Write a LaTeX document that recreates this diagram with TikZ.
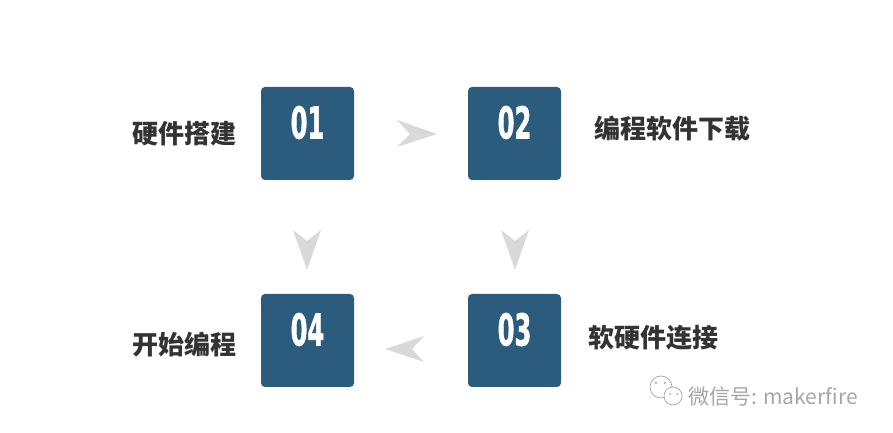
\documentclass[tikz,border=0pt]{standalone}
\usepackage{fontspec}
\usepackage{graphicx}
\setmainfont{Liberation Sans}
\newfontfamily\cjk{Noto Sans CJK SC}
\newfontfamily\numfont[BoldFeatures={FakeBold=1.5}]{DejaVu Sans}
\usetikzlibrary{positioning}

\definecolor{boxblue}{HTML}{2B5C7E}
\definecolor{chevgray}{HTML}{D9D9D9}
\definecolor{labelgray}{HTML}{333333}
\definecolor{markgray}{HTML}{A6A6A6}

\tikzset{
  stepbox/.style={fill=boxblue, rounded corners=4pt, minimum size=93pt, inner sep=0pt},
  num/.style={text=white, font=\numfont\bfseries\fontsize{44}{44}\selectfont, inner sep=0pt},
  label/.style={text=labelgray, font=\cjk\bfseries\fontsize{26}{26}\selectfont, inner sep=0pt},
  chev/.style={fill=chevgray},
}

\begin{document}
\begin{tikzpicture}[x=1pt, y=1pt]

    % Fix the frame of the picture
    \useasboundingbox[fill=white] (0,0) rectangle (893,433);

    % The four step boxes
    \node[stepbox] (b1) at (307.5,299.5) {};
    \node[stepbox] (b2) at (514.5,299.5) {};
    \node[stepbox] (b3) at (514.5,92.5) {};
    \node[stepbox] (b4) at (307.5,92.5) {};

    % Numbers in the upper part of the boxes
    \node[num] (n1) at ([yshift=11pt]b1.center) {\scalebox{0.55}[1]{01}};
    \node[num] (n2) at ([yshift=11pt]b2.center) {\scalebox{0.55}[1]{02}};
    \node[num] (n3) at ([yshift=11pt]b3.center) {\scalebox{0.55}[1]{03}};
    \node[num] (n4) at ([yshift=11pt]b4.center) {\scalebox{0.55}[1]{04}};

    % Labels beside the boxes
    \node[label, left=24pt of b1] (l1) {硬件搭建};
    \node[label, right=33pt of b2, yshift=5pt] (l2) {编程软件下载};
    \node[label, right=27pt of b3, yshift=3pt] (l3) {软硬件连接};
    \node[label, left=24pt of b4, yshift=-4pt] (l4) {开始编程};

    % Chevron from 01 to 02
    \fill[chev] (397,313) -- (437,299) -- (397,286) -- (410,299) -- cycle;

    % Chevrons from 01 to 04 and from 02 to 03
    \fill[chev] (293,203) -- (307,163) -- (321,203) -- (307,192) -- cycle;
    \fill[chev] (501,203) -- (515,163) -- (529,203) -- (515,192) -- cycle;

    % Chevron from 03 to 04
    \fill[chev] (424,97) -- (385,84) -- (424,71) -- (412,84) -- cycle;

    % Watermark
    \draw[markgray, line width=0.7pt] (661,46) circle (11);
    \draw[markgray, line width=0.7pt, fill=white] (673,37) circle (9);
    \fill[markgray] (656,50) circle (1.2) (665,50) circle (1.2);
    \fill[markgray] (670,39) circle (1) (677,39) circle (1);
    \node[text=markgray, font=\cjk\fontsize{21}{21}\selectfont, anchor=west, inner sep=0pt]
        (wm) at (688,36) {微信号: makerfire};

\end{tikzpicture}
\end{document}
